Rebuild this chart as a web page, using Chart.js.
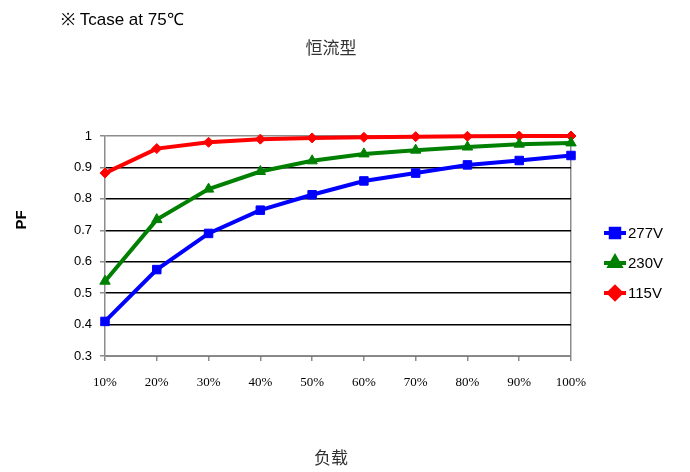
<!DOCTYPE html>
<html>
<head>
<meta charset="utf-8">
<script src="https://cdn.jsdelivr.net/npm/chart.js@4/dist/chart.umd.min.js"></script>
<style>
  html, body { margin: 0; padding: 0; background: #fff; }
  #wrap { width: 690px; height: 472px; }
</style>
</head>
<body>
<div id="wrap"><canvas id="pfChart" width="690" height="472"></canvas></div>
<script>
const loadLabels = ['10%', '20%', '30%', '40%', '50%', '60%', '70%', '80%', '90%', '100%'];
const pf277 = [0.41, 0.575, 0.69, 0.764, 0.813, 0.857, 0.882, 0.908, 0.922, 0.938];
const pf230 = [0.538, 0.734, 0.831, 0.887, 0.921, 0.943, 0.955, 0.965, 0.974, 0.978];
const pf115 = [0.882, 0.96, 0.98, 0.99, 0.994, 0.996, 0.998, 0.999, 1.0, 1.0];
const yTickLabels = ['0.3', '0.4', '0.5', '0.6', '0.7', '0.8', '0.9', '1'];

const AXIS_GRAY = '#8c8c8c';

// free text + legend with line and marker, like the spreadsheet original
const annotations = {
    id: 'annotations',
    afterDraw(chart) {
        const { ctx } = chart;
        ctx.save();
        ctx.fillStyle = '#000';
        ctx.textBaseline = 'middle';

        ctx.textAlign = 'left';
        ctx.font = '17px "Liberation Sans", Arial, sans-serif';
        ctx.fillText('※ Tcase at 75℃', 61, 20);

        ctx.textAlign = 'center';
        ctx.fillStyle = '#333';
        ctx.font = '17px "Noto Sans CJK SC", sans-serif';
        ctx.fillText('恒流型', 331, 48);
        ctx.fillText('负载', 331, 458);

        ctx.fillStyle = '#000';
        ctx.font = 'bold 15px "Liberation Sans", Arial, sans-serif';
        ctx.translate(22, 220);
        ctx.rotate(-Math.PI / 2);
        ctx.fillText('PF', 0, 0);
        ctx.setTransform(1, 0, 0, 1, 0, 0);
        ctx.restore();

        ctx.save();
        chart.data.datasets.forEach((ds, i) => {
            const y = 233 + i * 30;
            ctx.strokeStyle = ds.borderColor;
            ctx.lineWidth = 4;
            ctx.beginPath();
            ctx.moveTo(604, y);
            ctx.lineTo(626, y);
            ctx.stroke();
            Chart.helpers.drawPoint(ctx, {
                pointStyle: ds.pointStyle,
                radius: 6,
                borderWidth: 1,
            }, 615, y);
            ctx.fillStyle = ds.borderColor;
            ctx.fill();
            ctx.fillStyle = '#000';
            ctx.font = '15px "Liberation Sans", Arial, sans-serif';
            ctx.textAlign = 'left';
            ctx.textBaseline = 'middle';
            ctx.fillText(ds.label, 628, y + 1);
        });
        ctx.restore();
    },
};

const makeSeries = (label, data, color, pointStyle, radius) => ({
    label,
    data,
    borderColor: color,
    backgroundColor: color,
    borderWidth: 4,
    pointStyle,
    pointRadius: radius,
    pointHoverRadius: radius,
    pointBorderWidth: 1,
    tension: 0,
    clip: false,
});

new Chart(document.getElementById('pfChart'), {
    type: 'line',
    data: {
        labels: loadLabels,
        datasets: [
            makeSeries('277V', pf277, '#0000ff', 'rect', 6),
            makeSeries('230V', pf230, '#008000', 'triangle', 6),
            makeSeries('115V', pf115, '#ff0000', 'rectRot', 5),
        ],
    },
    options: {
        responsive: false,
        animation: false,
        devicePixelRatio: 1,
        layout: { padding: { left: 0, top: 136, right: 119, bottom: 0 } },
        plugins: {
            legend: { display: false },
            tooltip: { enabled: false },
        },
        scales: {
            x: {
                offset: false,
                afterFit: (scale) => { scale.height = 116; },
                border: { color: AXIS_GRAY, width: 1.5 },
                grid: {
                    color: (c) => (c.index === loadLabels.length - 1 ? AXIS_GRAY : 'transparent'),
                    tickColor: AXIS_GRAY,
                    tickLength: 5,
                    lineWidth: 1.5,
                },
                ticks: {
                    color: '#000',
                    padding: 14,
                    maxRotation: 0,
                    font: { family: '"Liberation Serif", "Times New Roman", serif', size: 13 },
                },
            },
            y: {
                min: 0.3,
                max: 1,
                afterFit: (scale) => { scale.width = 105; },
                border: { color: AXIS_GRAY, width: 1.5 },
                grid: {
                    color: (c) => (c.tick && c.tick.value >= 0.999 ? AXIS_GRAY : '#000'),
                    tickColor: AXIS_GRAY,
                    tickLength: 5,
                    lineWidth: 1.5,
                },
                ticks: {
                    stepSize: 0.1,
                    color: '#000',
                    padding: 8,
                    font: { family: '"Liberation Sans", Arial, sans-serif', size: 13 },
                    callback: (value, index) => yTickLabels[index],
                },
            },
        },
    },
    plugins: [annotations],
});
</script>
</body>
</html>
